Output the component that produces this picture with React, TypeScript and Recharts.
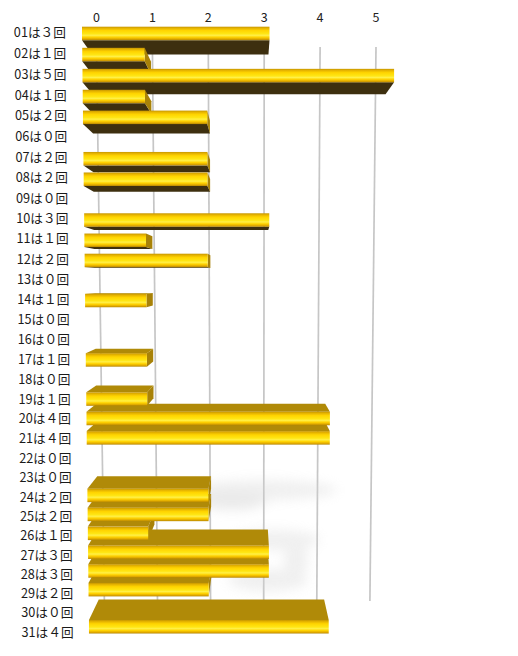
import React from 'react';
import { BarChart, Bar, XAxis, YAxis, CartesianGrid, Customized } from 'recharts';

// ---- data ----
const days = ['01','02','03','04','05','06','07','08','09','10','11','12','13','14','15','16','17','18','19','20','21','22','23','24','25','26','27','28','29','30','31'];
const counts = [3,1,5,1,2,0,2,2,0,3,1,2,0,1,0,0,1,0,1,4,4,0,0,2,2,1,3,3,2,0,4];
const countGlyphs = ['０','１','２','３','４','５'];
const xTicks = [0,1,2,3,4,5];

const data = days.map((d, i) => ({ label: `${d}は${countGlyphs[counts[i]]}回`, value: counts[i] }));

// ---- layout / perspective ----
const W = 518;
const H = 656;
const PLOT_LEFT = 82;
const PLOT_RIGHT = 394.5;
const PLOT_TOP = 21;
const BAND = 20;
const PLOT_BOTTOM = PLOT_TOP + BAND * days.length;
const VX = 252;
const VY = 280;
const DEPTH = 0.94;
const FH = 13.5;
// back plane (grid) is smaller than the bar fronts
const GRID_X0 = 96.5;
const GRID_SCALE = 0.8944;
const GRID_VX = 254;
const FONT = '"Noto Sans CJK JP", "Noto Sans", sans-serif';

const rowT = (yc: number) => (yc - PLOT_TOP - BAND / 2) / BAND;
const frontTop = (t: number) => (26.7 + 21.232 * t) / (1 + 0.002347 * t);
const labelY = (t: number) => (31.7 + 20.988 * t) / (1 + 0.001602 * t);
const kx = (t: number) => 1 / (1 + 0.001425 * t);
const px = (x: number, t: number) => VX + (x - VX) * kx(t);
const gridX = (x: number) => GRID_X0 + (x - PLOT_LEFT) * GRID_SCALE;
const back = (x: number, y: number): [number, number] => [VX + (x - VX) * DEPTH, VY + (y - VY) * DEPTH];
const pts = (arr: [number, number][]) => arr.map(p => `${p[0].toFixed(2)},${p[1].toFixed(2)}`).join(' ');

function geom(p: any) {
  const t = rowT(p.y + p.height / 2);
  const x0 = px(p.x, t);
  const x1 = px(p.x + p.width, t);
  const y0 = frontTop(t);
  const y1 = y0 + FH;
  return { t, x0, x1, y0, y1 };
}

function SideShape(p: any) {
  if (!p.width || p.width <= 0) return <g />;
  const { x0, x1, y0, y1 } = geom(p);
  const parts: React.ReactNode[] = [];
  if (y1 < VY) {
    parts.push(<polygon key="b" points={pts([[x0, y1], [x1, y1], back(x1, y1), back(x0, y1)])} fill="#3d2f0f" />);
  }
  if (y0 > VY) {
    parts.push(<polygon key="t" points={pts([[x0, y0], [x1, y0], back(x1, y0), back(x0, y0)])} fill="#b08a08" />);
  }
  if (x1 < VX) {
    parts.push(<polygon key="c" points={pts([[x1, y0], [x1, y1], back(x1, y1), back(x1, y0)])} fill="#a88208" />);
  }
  return <g>{parts}</g>;
}

function FrontShape(p: any) {
  if (!p.width || p.width <= 0) return <g />;
  const { x0, x1, y0 } = geom(p);
  return (
    <g>
      <defs>
        <linearGradient id="frontGrad" x1="0" y1="0" x2="0" y2="1">
          <stop offset="0%" stopColor="#c69600" />
          <stop offset="12%" stopColor="#e6b400" />
          <stop offset="28%" stopColor="#ffd400" />
          <stop offset="52%" stopColor="#ffe614" />
          <stop offset="64%" stopColor="#fff048" />
          <stop offset="78%" stopColor="#ffd200" />
          <stop offset="92%" stopColor="#dea600" />
          <stop offset="100%" stopColor="#b08400" />
        </linearGradient>
      </defs>
      <rect x={x0} y={y0} width={Math.max(0, x1 - x0)} height={FH} fill="url(#frontGrad)" />
    </g>
  );
}

function GridLine(p: any) {
  const top = p.y1 + 26;
  const bottom = p.y2 - 40;
  const xt = gridX(p.x1);
  const xb = GRID_VX + (xt - GRID_VX) * 0.95;
  return <line key={p.key} x1={xt} y1={top} x2={xb} y2={bottom} stroke="#c6c6c6" strokeWidth={1.7} />;
}

function TopTick(p: any) {
  return (
    <text x={gridX(p.x)} y={21.7} textAnchor="middle" fontFamily={FONT} fontSize={12.5} fill="#222">
      {p.payload.value}
    </text>
  );
}

function LeftTick(p: any) {
  const t = rowT(p.y);
  return (
    <text x={px(p.x, t)} y={labelY(t)} textAnchor="end" dominantBaseline="central" fontFamily={FONT} fontSize={12.7} fill="#1a1a1a">
      {p.payload.value}
    </text>
  );
}

function Shadow() {
  return (
    <g opacity={0.35}>
      <defs>
        <filter id="smoke" x="-50%" y="-50%" width="200%" height="200%">
          <feGaussianBlur stdDeviation="6" />
        </filter>
      </defs>
      <g filter="url(#smoke)" fill="#d4d4d4">
        <ellipse cx={262} cy={490} rx={75} ry={10} />
        <ellipse cx={232} cy={500} rx={35} ry={10} fill="#c4c4c4" />
        <ellipse cx={275} cy={540} rx={45} ry={10} />
        <ellipse cx={268} cy={580} rx={40} ry={11} />
        <ellipse cx={296} cy={560} rx={12} ry={18} />
      </g>
    </g>
  );
}

export default function App() {
  return (
    <div style={{ position: 'absolute', left: 0, top: 0, width: W, height: H, background: '#fff' }}>
      <BarChart
        width={W}
        height={H}
        data={data}
        layout="vertical"
        margin={{ top: 0, right: W - PLOT_RIGHT, bottom: H - PLOT_BOTTOM, left: 0 }}
        barSize={10}
        barGap={-10}
      >
        <XAxis
          type="number"
          orientation="top"
          domain={[0, 5]}
          ticks={xTicks}
          height={PLOT_TOP}
          axisLine={false}
          tickLine={false}
          tickSize={0}
          tickMargin={0}
          tick={<TopTick />}
          interval={0}
        />
        <YAxis
          type="category"
          dataKey="label"
          width={PLOT_LEFT}
          axisLine={false}
          tickLine={false}
          tickSize={0}
          tickMargin={16}
          interval={0}
          tick={<LeftTick />}
        />
        <CartesianGrid horizontal={false} vertical={GridLine} />
        <Customized component={<Shadow />} />
        <Bar dataKey="value" isAnimationActive={false} shape={(p: any) => <SideShape {...p} />} />
        <Bar dataKey="value" isAnimationActive={false} shape={(p: any) => <FrontShape {...p} />} />
      </BarChart>
    </div>
  );
}
